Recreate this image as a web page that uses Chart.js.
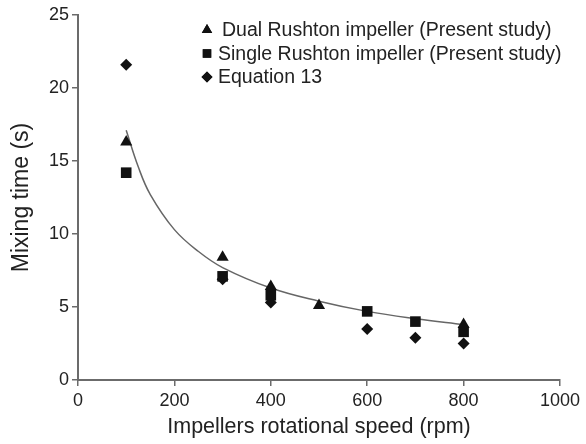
<!DOCTYPE html>
<html>
<head>
<meta charset="utf-8">
<script src="https://cdn.jsdelivr.net/npm/chart.js@4.4.1/dist/chart.umd.min.js"></script>
<style>
  html, body { margin: 0; padding: 0; background: #fff; }
  #mix { display: block; }
</style>
</head>
<body>
<canvas id="mix" width="586" height="444"></canvas>
<script>
// values
const dualSpeed = [100, 300, 400, 500, 800];
const dualTime = [16.3, 8.4, 6.4, 5.1, 3.8];

const singleSpeed = [100, 300, 400, 600, 700, 800];
const singleTime = [14.2, 7.1, 5.8, 4.7, 4.0, 3.3];

const eqSpeed = [100, 300, 400, 600, 700, 800];
const eqTime = [21.6, 6.9, 5.3, 3.5, 2.9, 2.5];

// trend curve
const fitSpeed = [100, 125, 150, 200, 250, 300, 400, 500, 600, 700, 800];
const fitTime = [17.1, 14.6, 12.7, 10.3, 8.8, 7.7, 6.3, 5.4, 4.7, 4.2, 3.8];

const xTicks = [0, 200, 400, 600, 800, 1000];
const yTicks = [0, 5, 10, 15, 20, 25];

const pts = (xs, ys) => xs.map((x, i) => ({ x, y: ys[i] }));

const axisGrey = '#6b6b6b';
const textCol = '#222';

// legend drawn inside the plot, top right
const innerLegend = {
  id: 'innerLegend',
  afterDraw(chart) {
    const ctx = chart.ctx;
    const rows = chart.data.datasets.filter(d => d.showInLegend);
    ctx.save();
    ctx.font = '19.5px "Liberation Sans", Arial, sans-serif';
    ctx.textBaseline = 'middle';
    rows.forEach((d, i) => {
      const y = 30 + i * 23.5;
      Chart.helpers.drawPoint(ctx, {
        pointStyle: d.pointStyle,
        radius: d.legendRadius,
        rotation: 0,
        borderWidth: 0
      }, 207, y);
      ctx.fillStyle = '#111';
      ctx.fill();
      ctx.fillStyle = textCol;
      ctx.fillText(d.label, d.legendTextX, y + 1);
    });
    ctx.restore();
  }
};

new Chart(document.getElementById('mix'), {
  type: 'scatter',
  data: {
    datasets: [
      {
        label: 'Power fit',
        data: pts(fitSpeed, fitTime),
        showLine: true,
        borderColor: '#666',
        borderWidth: 1.5,
        pointRadius: 0,
        tension: 0.4,
        order: 5
      },
      {
        label: 'Dual Rushton impeller (Present study)',
        data: pts(dualSpeed, dualTime),
        pointStyle: 'triangle',
        pointRadius: 7,
        backgroundColor: '#111',
        borderColor: '#111',
        borderWidth: 0,
        showInLegend: true,
        legendRadius: 6,
        legendTextX: 222
      },
      {
        label: 'Single Rushton impeller (Present study)',
        data: pts(singleSpeed, singleTime),
        pointStyle: 'rect',
        pointRadius: 7.5,
        backgroundColor: '#111',
        borderColor: '#111',
        borderWidth: 0,
        showInLegend: true,
        legendRadius: 6,
        legendTextX: 218
      },
      {
        label: 'Equation 13',
        data: pts(eqSpeed, eqTime),
        pointStyle: 'rectRot',
        pointRadius: 6,
        backgroundColor: '#111',
        borderColor: '#111',
        borderWidth: 0,
        showInLegend: true,
        legendRadius: 5.5,
        legendTextX: 218
      }
    ]
  },
  options: {
    responsive: false,
    animation: false,
    layout: { padding: { top: 15, right: 26, left: 4, bottom: 0 } },
    plugins: {
      legend: { display: false },
      tooltip: { enabled: false }
    },
    scales: {
      x: {
        type: 'linear',
        min: 0,
        max: 1000,
        afterBuildTicks: s => { s.ticks = xTicks.map(v => ({ value: v })); },
        afterFit: s => { s.height = 64; },
        border: { color: axisGrey, width: 2 },
        grid: { drawOnChartArea: false, color: axisGrey, tickLength: 6, lineWidth: 1.5 },
        ticks: {
          color: textCol,
          font: { size: 18, family: '"Liberation Sans", Arial' },
          padding: 4,
          maxRotation: 0,
          callback: v => String(v)
        },
        title: {
          display: true,
          text: 'Impellers rotational speed (rpm)',
          color: textCol,
          font: { size: 21.5, family: '"Liberation Sans", Arial' },
          padding: { top: 2 }
        }
      },
      y: {
        type: 'linear',
        min: 0,
        max: 25,
        afterBuildTicks: s => { s.ticks = yTicks.map(v => ({ value: v })); },
        afterFit: s => { s.width = 74; },
        border: { color: axisGrey, width: 2 },
        grid: { drawOnChartArea: false, color: axisGrey, tickLength: 6, lineWidth: 1.5 },
        ticks: { color: textCol, font: { size: 18, family: '"Liberation Sans", Arial' }, padding: 3 },
        title: {
          display: true,
          text: 'Mixing time (s)',
          color: textCol,
          font: { size: 23, family: '"Liberation Sans", Arial' },
          padding: { bottom: 2 }
        }
      }
    }
  },
  plugins: [innerLegend]
});
</script>
</body>
</html>
